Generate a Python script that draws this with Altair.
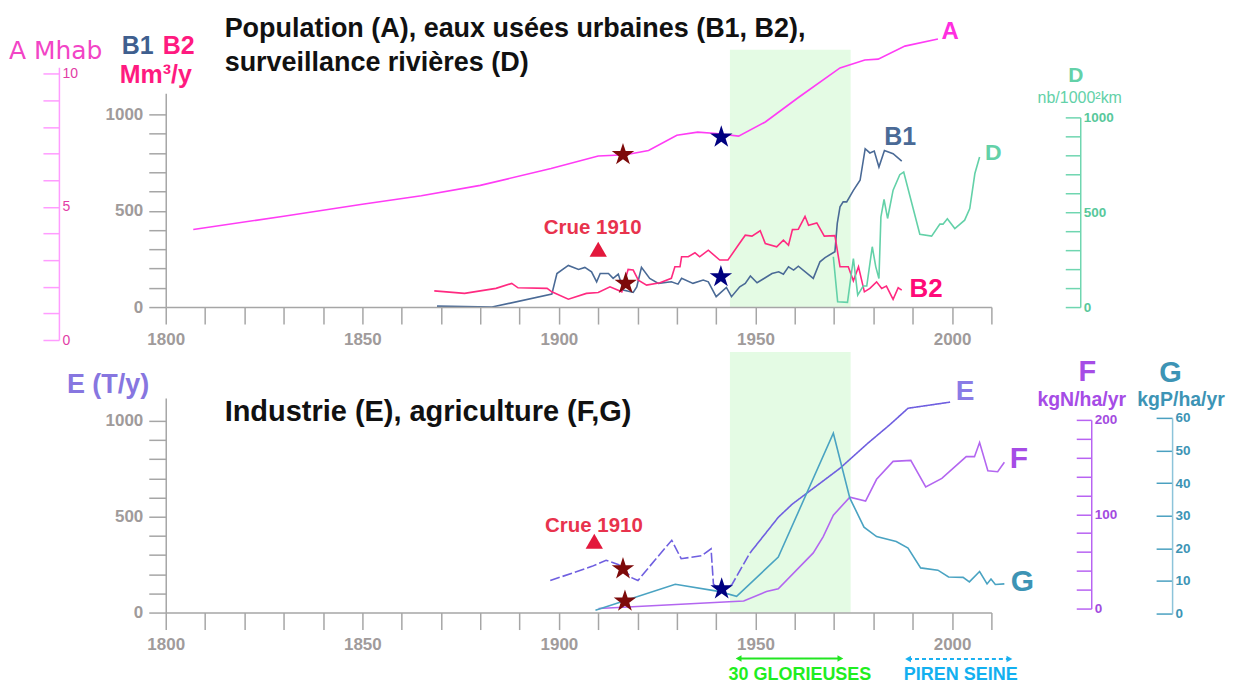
import altair as alt
import pandas as pd

# ---------------- data ----------------
A_year = [1807, 1830, 1850, 1865, 1880, 1898, 1910, 1917, 1922.8, 1930, 1935.3, 1940,
          1945.7, 1952.5, 1961, 1971.5, 1977.8, 1981.2, 1988, 1996.4]
A_mhab = [4.15, 4.65, 5.1, 5.42, 5.81, 6.44, 6.91, 6.96, 7.12, 7.69, 7.81, 7.76,
          7.66, 8.19, 9.12, 10.22, 10.52, 10.55, 11.04, 11.31]

B1_year = [1869, 1883, 1898.2, 1899.5, 1902.4, 1905, 1906.6, 1908.3, 1909.6, 1910.5, 1912.6,
           1913.8, 1915.1, 1916.4, 1918.9, 1919.8, 1921, 1923.1, 1925.3, 1928.6, 1930.3, 1931.2,
           1934.1, 1936.7, 1938, 1940, 1942.6, 1943.9, 1946, 1947.4, 1948.7, 1950.4, 1954.2,
           1955.9, 1957.1, 1958.4, 1959.7, 1960.9, 1964.7, 1966.4, 1967.7, 1970.2, 1970.8,
           1971.5, 1972.3, 1973.2, 1974.9, 1976.6, 1977.9, 1979.1, 1980.2, 1981.4, 1982.8,
           1985, 1987.2]
B1_val = [5, 0, 67, 174, 216, 195, 206, 183, 131, 174, 174,
          149, 171, 88, 76, 105, 206, 149, 123, 131, 119, 149,
          123, 140, 131, 54, 102, 54, 105, 123, 161, 126, 174,
          183, 171, 209, 192, 212, 149, 235, 257, 287, 434,
          520, 546, 546, 606, 658, 822, 800, 810, 727, 813,
          796, 758]

B2_year = [1868.3, 1876, 1884, 1888, 1889.6, 1897, 1898.2, 1902.4, 1907, 1910, 1913, 1916,
           1917.6, 1918.9, 1920.2, 1922.3, 1925.7, 1928.6, 1929.5, 1930.8, 1931.2, 1932.9,
           1934.6, 1935.8, 1938, 1940.9, 1943, 1945.6, 1947.4, 1949.1, 1951.2, 1952.5, 1955.4,
           1957.1, 1958.4, 1959.4, 1960.9, 1962.6, 1963.5, 1965.6, 1967.5, 1970.2, 1971.5,
           1973.6, 1974.9, 1976.2, 1977.7, 1979.1, 1980.8, 1982.1, 1983.3, 1985, 1986.3, 1987.2]
B2_val = [84, 71, 97, 123, 100, 97, 79, 41, 71, 76, 105, 79,
          195, 192, 140, 114, 126, 149, 209, 209, 261, 261,
          282, 261, 295, 244, 244, 321, 373, 368, 396, 330, 313,
          347, 321, 402, 404, 471, 425, 437, 368, 371, 209,
          209, 136, 209, 79, 97, 131, 97, 109, 40, 100, 88]

D_year = [1969.8, 1970.9, 1973.4, 1974.9, 1976, 1977.4, 1978.3, 1979.7, 1980.6, 1981.4, 1981.9,
          1982.7, 1983.6, 1985, 1986.7, 1987.7, 1991.8, 1994.8, 1996.9, 1997.7, 1998.8, 2000.7,
          2003.2, 2004.5, 2005.8, 2007]
D_val = [265, 28, 25, 256, 63, 111, 111, 318, 212, 151, 475,
         567, 467, 616, 698, 712, 384, 374, 437, 437, 465, 414,
         458, 519, 704, 791]

E_dash_year = [1897.8, 1908.4, 1912, 1915.2, 1918.6, 1920.1, 1924.5, 1928.7, 1931.1, 1936.3,
               1938.7, 1939.3, 1941.4, 1944, 1948.6]
E_dash_val = [167, 241, 273, 250, 181, 167, 276, 377, 281, 297, 333, 149, 111, 146, 311]
E_solid_year = [1948.6, 1955.8, 1959.3, 1971.5, 1978.6, 1984.1, 1988.8, 1999.5]
E_solid_val = [311, 497, 565, 753, 884, 979, 1066, 1098]

F_year = [1910.1, 1947, 1952.8, 1955.8, 1964.7, 1967.2, 1969.8, 1974, 1978, 1980.8, 1985, 1989.5,
          1993.3, 1997.4, 2003.6, 2005.7, 2007, 2009.1, 2011.6, 2013.3]
F_val = [0, 8, 18, 21, 59, 76, 99, 118, 114, 137, 156, 157,
         129, 138, 161, 161, 176, 146, 145, 155]

G_year = [1909.3, 1929.6, 1940.6, 1945.2, 1955.8, 1969.8, 1974, 1977.6, 1980.8, 1985.8, 1988.8,
          1992, 1996.4, 1999.1, 2002.8, 2004.4, 2007, 2008.9, 2009.9, 2011, 2013.3]
G_val = [1, 9, 6.8, 5.3, 17.3, 55.3, 35.4, 26.5, 23.6, 22.1, 20.1,
         14, 13.3, 11.2, 11.1, 9.7, 12.9, 9.1, 10.6, 8.9, 9.1]

# event markers (stars): year, value, which war
STAR_A_year, STAR_A_val, STAR_A_kind = [1916.3, 1941.3], [6.96, 7.62], ["ww1", "ww2"]
STAR_T_year, STAR_T_val, STAR_T_kind = [1917, 1941.2], [123, 157], ["ww1", "ww2"]
STAR_B_year, STAR_B_val, STAR_B_kind = [1916.3, 1916.8, 1941.4], [228, 59, 123], ["ww1", "ww1", "ww2"]
CRUE_year = 1910
BAND = [1943.5, 1974.2]
GLOR = [1945.7, 1971.6]
PIREN = [1988.8, 2014.6]

# ---------------- style ----------------
X0, Y0 = 166, 8            # page position of plot origin
W, H = 827, 605
AXG, LBG = "#a6a6a6", "#a09b9b"
SANS = "'Liberation Sans', Arial, sans-serif"
DEJAVU = "'DejaVu Sans', sans-serif"
C_A, C_B1, C_B2, C_D = "#ff3cf5", "#4a6a96", "#ff2a80", "#63d1a8"
C_E, C_F, C_G = "#6f5fe0", "#b366f0", "#4aa3c2"
MAROON, NAVY, CRUE = "#7d0a0a", "#000080", "#e8334d"
BAND_C = "#e4fbe4"
STAR = ("M0,-1L0.2245,-0.309L0.9511,-0.309L0.3633,0.118L0.5878,0.809L0,0.382"
        "L-0.5878,0.809L-0.3633,0.118L-0.9511,-0.309L-0.2245,-0.309Z")

XS = alt.Scale(domain=[1800, 2010], nice=False, zero=False)
SC = {
    "top": ([0, 1110], [299, 84.8]),
    "A": ([0, 10.25], [332, 58.7]),
    "D": ([0, 1000], [299, 109]),
    "bot": ([0, 1120], [605, 390]),
    "F": ([0, 200], [601, 412]),
    "G": ([0, 60], [606, 410]),
}


def ysc(k):
    d, r = SC[k]
    return alt.Scale(domain=d, range=r, nice=False, zero=False)


def x_axis(offset):
    return alt.Axis(orient="bottom", offset=offset, values=list(range(1800, 2011, 10)), format="d",
                    labelExpr="datum.value % 50 === 0 ? datum.label : ''", title=None, grid=False,
                    tickSize=17, tickWidth=1.5, tickColor=AXG, domainColor=AXG, domainWidth=1.5,
                    labelColor=LBG, labelFont=SANS, labelFontSize=17, labelFontWeight="bold",
                    labelPadding=7, labelFlush=False, labelOverlap=False, labelBaseline="top", zindex=1)


def y_axis(values, expr, offset, line, tick, lab, size, weight, tsize, right, pad=6):
    kw = dict(orient="left", offset=offset, values=values, format="d", title=None, grid=False,
              tickSize=tsize, tickWidth=1.5, tickColor=tick, domainColor=line, domainWidth=1.5,
              labelColor=lab, labelFont=SANS, labelFontSize=size, labelFontWeight=weight,
              labelFlush=False, labelOverlap=False, labelBaseline="middle", zindex=1)
    if expr:
        kw["labelExpr"] = expr
    if right:
        kw.update(labelAlign="left", labelPadding=-(tsize + 3))
    else:
        kw.update(labelAlign="right", labelPadding=pad)
    return alt.Axis(**kw)


def X(field="year", axis=None):
    return alt.X(f"{field}:Q", scale=XS, axis=axis)


def Y(key, field="v", axis=None):
    return alt.Y(f"{field}:Q", scale=ysc(key), axis=axis)


layers = []

# shaded "30 glorieuses" bands
band_df = pd.DataFrame({"x0": [BAND[0]], "x1": [BAND[1]], "lo": [0], "top": [1335], "bot": [1360]})
layers.append(alt.Chart(band_df).mark_rect(color=BAND_C).encode(
    x=X("x0"), x2="x1:Q", y=Y("top", "top"), y2="lo:Q"))
layers.append(alt.Chart(band_df).mark_rect(color=BAND_C).encode(
    x=X("x0"), x2="x1:Q", y=Y("bot", "bot"), y2="lo:Q"))

# A population
layers.append(alt.Chart(pd.DataFrame({"year": A_year, "v": A_mhab})).mark_line(
    color=C_A, strokeWidth=1.6).encode(
    x=X(axis=x_axis(-306)),
    y=Y("A", axis=y_axis(list(range(0, 11)), "datum.value % 5 === 0 ? datum.label : ''", 107,
                         "#ff9cff", "#ff9cff", "#e23ca6", 14, "normal", 16, True))))

# B1, B2 waste water
b_df = pd.concat([pd.DataFrame({"year": B1_year, "v": B1_val, "s": "B1"}),
                  pd.DataFrame({"year": B2_year, "v": B2_val, "s": "B2"})])
layers.append(alt.Chart(b_df).mark_line(strokeWidth=1.6).encode(
    x=X(), color=alt.Color("s:N", scale=alt.Scale(domain=["B1", "B2"], range=[C_B1, C_B2]), legend=None),
    y=Y("top", axis=y_axis(list(range(0, 1001, 100)), "datum.value % 500 === 0 ? datum.label : ''", 0,
                           AXG, AXG, LBG, 17, "bold", 17, False))))

# D surveillance
layers.append(alt.Chart(pd.DataFrame({"year": D_year, "v": D_val})).mark_line(
    color=C_D, strokeWidth=1.6).encode(
    x=X(), y=Y("D", axis=y_axis(list(range(0, 1001, 100)), "datum.value % 500 === 0 ? datum.label : ''",
                                -916, "#6fd6b0", "#6fd6b0", "#58c89b", 13.5, "bold", 15, True))))

# E industry (dashed before 1949)
e_df = pd.concat([pd.DataFrame({"year": E_dash_year, "v": E_dash_val, "seg": "dash"}),
                  pd.DataFrame({"year": E_solid_year, "v": E_solid_val, "seg": "solid"})])
layers.append(alt.Chart(e_df).mark_line(color=C_E, strokeWidth=1.6).encode(
    x=X(axis=x_axis(0)),
    strokeDash=alt.StrokeDash("seg:N", scale=alt.Scale(domain=["dash", "solid"], range=[[10, 3], [1, 0]]),
                              legend=None),
    y=Y("bot", axis=y_axis(list(range(0, 1001, 100)), "datum.value % 500 === 0 ? datum.label : ''", 0,
                           AXG, AXG, LBG, 17, "bold", 17, False))))

# F nitrogen
layers.append(alt.Chart(pd.DataFrame({"year": F_year, "v": F_val})).mark_line(
    color=C_F, strokeWidth=1.6).encode(
    x=X(), y=Y("F", axis=y_axis(list(range(0, 201, 20)), "datum.value % 100 === 0 ? datum.label : ''",
                                -927, "#b863f2", "#b863f2", "#a34be0", 13.5, "bold", 15, True))))

# G phosphorus
layers.append(alt.Chart(pd.DataFrame({"year": G_year, "v": G_val})).mark_line(
    color=C_G, strokeWidth=1.6).encode(
    x=X(), y=Y("G", axis=y_axis(list(range(0, 61, 10)), None, -1008,
                                "#8cc4da", "#4aa0c0", "#3d94b5", 13.5, "bold", 16, True))))

# stars
star_color = alt.Color("k:N", scale=alt.Scale(domain=["ww1", "ww2"], range=[MAROON, NAVY]), legend=None)
for yrs, vals, kinds, key in [(STAR_A_year, STAR_A_val, STAR_A_kind, "A"),
                              (STAR_T_year, STAR_T_val, STAR_T_kind, "top"),
                              (STAR_B_year, STAR_B_val, STAR_B_kind, "bot")]:
    layers.append(alt.Chart(pd.DataFrame({"year": yrs, "v": vals, "k": kinds})).mark_point(
        shape=STAR, filled=True, size=560, opacity=1).encode(x=X(), y=Y(key), color=star_color))

# Crue 1910 markers and texts
for key, yr, tv, txy, txv in [("top", CRUE_year, 300, 1908.6, 412), ("bot", 1909, 372, 1908.9, 453)]:
    layers.append(alt.Chart(pd.DataFrame({"year": [yr], "v": [tv]})).mark_point(
        shape="triangle-up", filled=True, size=300, color="#e3183c", opacity=1).encode(x=X(), y=Y(key)))
    layers.append(alt.Chart(pd.DataFrame({"year": [txy], "v": [txv], "t": ["Crue 1910"]})).mark_text(
        color=CRUE, font=SANS, fontSize=20.5, fontWeight="bold", baseline="middle").encode(
        x=X(), y=Y(key), text="t:N"))

# series labels
LABELS = [("A", 1999.5, 11.57, "A", "#ff2ee0", 24), ("B1", 1986.8, 881, "top", "#4a6a96", 25),
          ("D", 2010.5, 810, "D", "#63d1a8", 23), ("B2", 1993.4, 93, "top", "#ff0a78", 26),
          ("E", 2003.3, 1151, "bot", "#8a7be6", 28), ("F", 2017, 158, "F", "#a64ce6", 30),
          ("G", 2017.9, 9.6, "G", "#3d94b5", 30)]
for txt, yr, v, key, col, fs in LABELS:
    layers.append(alt.Chart(pd.DataFrame({"year": [yr], "v": [v], "t": [txt]})).mark_text(
        color=col, font=SANS, fontSize=fs, fontWeight="bold", baseline="middle").encode(
        x=X(), y=Y(key), text="t:N"))

# period arrows at the bottom
arrow_shape = alt.Shape("d:N", scale=alt.Scale(domain=["l", "r"], range=["triangle-left", "triangle-right"]),
                        legend=None)
for rng, col, tcol, dash, label, tx, ypix in [
        (GLOR, "#22e622", "#1fee1f", [1, 0], "30 GLORIEUSES", 1961.3, 651),
        (PIREN, "#1ab0f0", "#12b0f0", [4, 3], "PIREN SEINE", 2002.2, 651.5)]:
    layers.append(alt.Chart(pd.DataFrame({"x0": [rng[0]], "x1": [rng[1]]})).mark_rule(
        color=col, strokeWidth=1.8, strokeDash=dash).encode(x=X("x0"), x2="x1:Q", y=alt.value(ypix)))
    layers.append(alt.Chart(pd.DataFrame({"year": rng, "d": ["l", "r"]})).mark_point(
        filled=True, size=45, color=col, opacity=1).encode(x=X(), y=alt.value(ypix), shape=arrow_shape))
    layers.append(alt.Chart(pd.DataFrame({"year": [tx], "t": [label]})).mark_text(
        color=tcol, font=SANS, fontSize=18, fontWeight="bold", baseline="alphabetic").encode(
        x=X(), y=alt.value(673), text="t:N"))


def ptext(txt, px, py, color, size, font, weight="bold", align="left"):
    return alt.Chart(pd.DataFrame({"t": [txt]})).mark_text(
        color=color, fontSize=size, font=font, fontWeight=weight, align=align, baseline="alphabetic"
    ).encode(x=alt.value(px - X0), y=alt.value(py - Y0), text="t:N")


layers += [
    ptext("Population (A), eaux usées urbaines (B1, B2),", 225, 36, "#111111", 27, SANS),
    ptext("surveillance rivières (D)", 225, 71, "#111111", 27, SANS),
    ptext("Industrie (E), agriculture (F,G)", 225, 421, "#111111", 29, SANS),
    ptext("A Mhab", 9, 59, "#f244c6", 25, DEJAVU, "normal"),
    ptext("B1", 122, 54, "#3f5f8f", 25, SANS),
    ptext("B2", 163, 54, "#ff1a80", 25, SANS),
    ptext("Mm³/y", 120, 83, "#ff1a80", 25, SANS),
    ptext("E (T/y)", 67, 393, "#8776e0", 27, SANS),
    ptext("D", 1077.5, 82, "#63d1a8", 21, SANS, "bold", "center"),
    ptext("nb/1000²km", 1081.5, 103, "#63d1a8", 16, SANS, "normal", "center"),
    ptext("F", 1089, 381, "#a64ce6", 29, SANS, "bold", "center"),
    ptext("kgN/ha/yr", 1083.5, 406, "#a64ce6", 19.5, SANS, "bold", "center"),
    ptext("G", 1172.5, 382, "#3d94b5", 29, SANS, "bold", "center"),
    ptext("kgP/ha/yr", 1183, 406, "#3d94b5", 19.5, SANS, "bold", "center"),
]

chart = alt.layer(*layers).resolve_scale(
    x="independent", y="independent", color="independent", strokeDash="independent", shape="independent"
).properties(
    width=W, height=H, autosize=alt.AutoSizeParams(type="none"),
    padding={"left": X0 - 8, "top": Y0 - 8, "right": 236, "bottom": 70},
    background="white",
).configure_view(stroke=None)

chart.save("out.html", embed_options={"renderer": "svg", "actions": False})
